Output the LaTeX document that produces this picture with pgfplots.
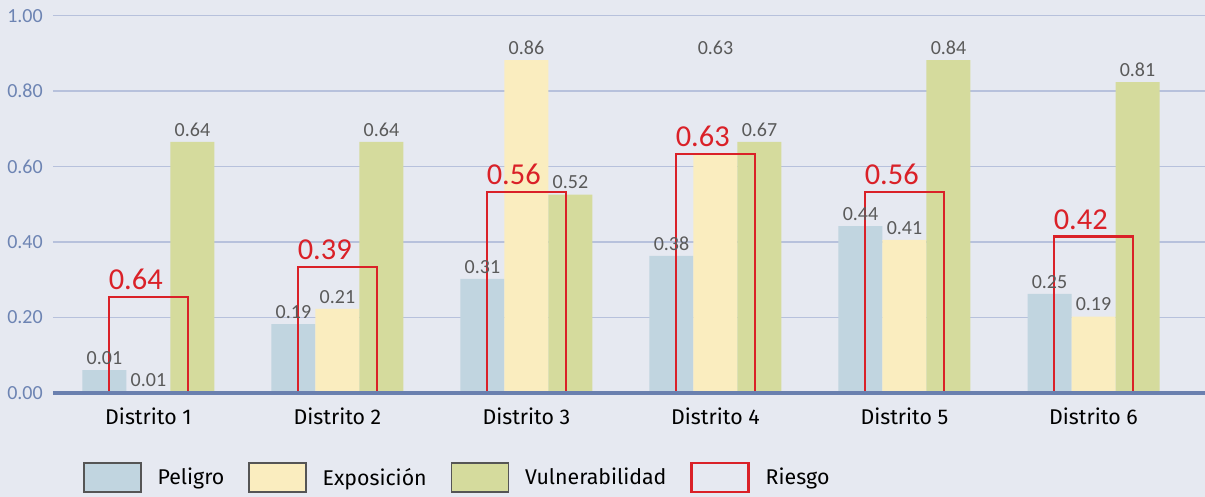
\documentclass[border=0pt]{standalone}
\usepackage{fontspec}
\setmainfont{Fira Sans}
\newfontfamily\numfont{Carlito}
\usepackage{pgfplots}
\pgfplotsset{compat=1.18}
\definecolor{bgcol}{HTML}{E6E9F1}
\definecolor{pelcol}{HTML}{C1D5E0}
\definecolor{expcol}{HTML}{FAEDBF}
\definecolor{vulcol}{HTML}{D5DB9D}
\definecolor{riecol}{HTML}{DA2128}
\definecolor{gridcol}{HTML}{B7C1DC}
\definecolor{axiscol}{HTML}{6A80AF}
\definecolor{tickcol}{HTML}{6D84B3}
\definecolor{labcol}{HTML}{5A5A5A}
\definecolor{legborder}{HTML}{555555}
\begin{document}
\begin{tikzpicture}
\path[use as bounding box, fill=bgcol] (-39.75pt,-78.2pt) rectangle (864pt,294.5pt);
\begin{axis}[
  at={(0pt,0pt)}, anchor=south west,
  scale only axis, width=864pt, height=282.75pt,
  xmin=-0.505, xmax=5.59, ymin=0, ymax=1,
  clip=false,
  axis line style={draw=none},
  major tick length=0pt,
  xtick={0,1,2,3,4,5},
  xticklabels={Distrito 1,Distrito 2,Distrito 3,Distrito 4,Distrito 5,Distrito 6},
  xticklabel style={font=\fontsize{16}{19}\selectfont, text=black, anchor=base, inner sep=0pt, yshift=-24pt},
  ytick={0,0.2,0.4,0.6,0.8,1},
  yticklabel={\pgfmathprintnumber[fixed,fixed zerofill,precision=2,assume math mode=true]{\tick}},
  yticklabel style={font=\numfont\fontsize{15}{18}\selectfont, text=tickcol, anchor=east, inner sep=0pt, xshift=-7.5pt},
  ymajorgrids, grid style={color=gridcol, line width=1pt},
  legend columns=4,
  legend style={at={(rel axis cs:0.026,-0.225)}, anchor=west, draw=none, fill=none, inner sep=0pt,
    font=\fontsize{16}{19}\selectfont, nodes={inner sep=0pt},
    /tikz/every odd column/.append style={column sep=12pt},
    /tikz/every even column/.append style={column sep=18pt}},
  legend cell align=left,
]
\addplot[ybar, bar width=33pt, bar shift=-33pt, fill=pelcol, draw=none,
  nodes near coords, point meta=explicit symbolic,
  every node near coord/.append style={font=\numfont\fontsize{15}{18}\selectfont, text=labcol, anchor=south, inner sep=0pt, yshift=4pt, xshift=-33pt},
  legend image code/.code={\draw[fill=pelcol, draw=legborder, line width=1pt] (0pt,-10.9pt) rectangle (42.75pt,10.9pt);}]
  coordinates {(0,0.060)[0.01] (1,0.182)[0.19] (2,0.302)[0.31] (3,0.363)[0.38] (4,0.442)[0.44] (5,0.262)[0.25]};
\addlegendentry{Peligro}
\addplot[ybar, bar width=33pt, bar shift=0pt, fill=expcol, draw=none,
  nodes near coords, point meta=explicit symbolic,
  every node near coord/.append style={font=\numfont\fontsize{15}{18}\selectfont, text=labcol, anchor=south, inner sep=0pt, yshift=4pt},
  legend image code/.code={\draw[fill=expcol, draw=legborder, line width=1pt] (0pt,-10.9pt) rectangle (42.75pt,10.9pt);}]
  coordinates {(0,0)[0.01] (1,0.222)[0.21] (2,0.882)[0.86] (3,0.633)[\phantom{0}] (4,0.405)[0.41] (5,0.202)[0.19]};
\addlegendentry{Exposición}
\addplot[ybar, bar width=33pt, bar shift=33pt, fill=vulcol, draw=none,
  nodes near coords, point meta=explicit symbolic,
  every node near coord/.append style={font=\numfont\fontsize{15}{18}\selectfont, text=labcol, anchor=south, inner sep=0pt, yshift=4pt, xshift=33pt},
  legend image code/.code={\draw[fill=vulcol, draw=legborder, line width=1pt] (0pt,-10.9pt) rectangle (42.75pt,10.9pt);}]
  coordinates {(0,0.665)[0.64] (1,0.665)[0.64] (2,0.525)[0.52] (3,0.665)[0.67] (4,0.882)[0.84] (5,0.824)[0.81]};
\addlegendentry{Vulnerabilidad}
\addplot[ybar, bar width=59.25pt, bar shift=0pt, fill=none, draw=riecol, line width=1.7pt,
  nodes near coords, point meta=explicit symbolic,
  every node near coord/.append style={font=\numfont\fontsize{22.8}{26}\selectfont, text=riecol, anchor=south west, inner sep=0pt, yshift=4.5pt, xshift=-30.6pt},
  legend image code/.code={\draw[fill=none, draw=riecol, line width=1.7pt] (0pt,-10.9pt) rectangle (42.75pt,10.9pt);}]
  coordinates {(0,0.253)[0.64] (1,0.333)[0.39] (2,0.532)[0.56] (3,0.633)[0.63] (4,0.533)[0.56] (5,0.414)[0.42]};
\addlegendentry{Riesgo}
\node[anchor=base, font=\numfont\fontsize{15}{18}\selectfont, text=labcol, inner sep=0pt] at (axis cs:3,0.898) {0.63};
\draw[axiscol, line width=3pt] (rel axis cs:0,0) -- (rel axis cs:1,0);
\end{axis}
\end{tikzpicture}
\end{document}
